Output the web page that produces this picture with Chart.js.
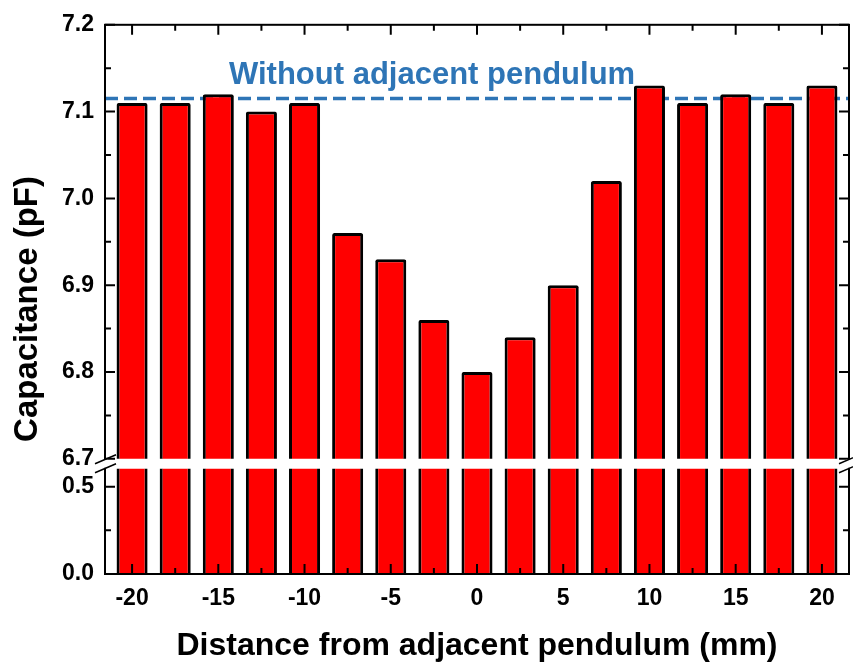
<!DOCTYPE html>
<html>
<head>
<meta charset="utf-8">
<script src="https://cdn.jsdelivr.net/npm/chart.js@4.4.0/dist/chart.umd.min.js"></script>
<style>
  html, body { margin: 0; padding: 0; background: #fff; }
</style>
</head>
<body>
<canvas id="chart" width="853" height="666"></canvas>
<script>
// distance from the adjacent pendulum (mm)
const distances = [-20, -17.5, -15, -12.5, -10, -7.5, -5, -2.5, 0, 2.5, 5, 7.5, 10, 12.5, 15, 17.5, 20];
// capacitance (pF)
const capacitance = [7.11, 7.11, 7.12, 7.10, 7.11, 6.96, 6.93, 6.86, 6.80, 6.84, 6.90, 7.02, 7.13, 7.11, 7.12, 7.11, 7.13];
// level without adjacent pendulum
const referenceLabel = 'Without adjacent pendulum';
const referenceValue = 7.115;

const xTickLabels = [-20, -15, -10, -5, 0, 5, 10, 15, 20];
const yUpperTicks = [6.7, 6.8, 6.9, 7.0, 7.1, 7.2];
const yLowerTicks = [0.0, 0.5];
const xRange = [-21.57, 21.57];
const yUpperRange = [6.7, 7.2];
const yLowerRange = [0, 0.66];

const FONT = "'Liberation Sans', Arial, sans-serif";
const BLUE = '#2E75B6';
const GAP = 10;

Chart.defaults.font.family = FONT;
Chart.defaults.color = '#000';

const points = distances.map((d, i) => ({ x: d, y: capacitance[i] }));

function line(ctx, x1, y1, x2, y2) {
    ctx.moveTo(x1, y1);
    ctx.lineTo(x2, y2);
}

// broken axis, inner ticks, frame and free texts
const decor = {
    id: 'decor',
    beforeDatasetDraw(chart, args) {
        if (args.meta.yAxisID !== 'y2') return;
        const s = chart.scales.y2, a = chart.chartArea, ctx = chart.ctx;
        ctx.save();
        ctx.beginPath();
        ctx.rect(a.left, s.top + GAP, a.right - a.left, s.bottom - s.top - GAP);
        ctx.clip();
    },
    afterDatasetDraw(chart, args) {
        if (args.meta.yAxisID === 'y2') chart.ctx.restore();
    },
    afterDatasetsDraw(chart) {
        const ctx = chart.ctx;
        const { left, right, top, bottom } = chart.chartArea;
        const x = chart.scales.x, y = chart.scales.y, y2 = chart.scales.y2;

        ctx.save();
        ctx.strokeStyle = '#000';
        ctx.lineWidth = 2;
        ctx.beginPath();
        // x ticks
        distances.forEach(d => {
            const px = x.getPixelForValue(d);
            const len = xTickLabels.includes(d) ? 10 : 6;
            line(ctx, px, bottom, px, bottom - len);
            line(ctx, px, top, px, top + len);
        });
        // y ticks
        const yt = (scale, vals) => {
            vals.forEach((v, i) => {
                const py = scale.getPixelForValue(v);
                line(ctx, left, py, left + 10, py);
                line(ctx, right, py, right - 10, py);
                if (i < vals.length - 1) {
                    const pm = scale.getPixelForValue((v + vals[i + 1]) / 2);
                    line(ctx, left, pm, left + 6, pm);
                    line(ctx, right, pm, right - 6, pm);
                }
            });
        };
        yt(y, yUpperTicks);
        yt(y2, yLowerTicks);
        ctx.stroke();
        ctx.strokeRect(left, top, right - left, bottom - top);

        // break
        const gy = y2.top;
        ctx.fillStyle = '#fff';
        ctx.fillRect(left - 3, gy + 1, 6, GAP - 2);
        ctx.fillRect(right - 3, gy + 1, 6, GAP - 2);
        ctx.lineWidth = 1.5;
        ctx.beginPath();
        [left, right].forEach(px => {
            line(ctx, px - 10, gy + 5, px + 11, gy - 4);
            line(ctx, px - 10, gy + 14, px + 11, gy + 5);
        });
        ctx.stroke();

        // texts
        ctx.fillStyle = BLUE;
        ctx.font = 'bold 31px ' + FONT;
        ctx.textAlign = 'left';
        ctx.textBaseline = 'alphabetic';
        ctx.fillText(referenceLabel, 229, 84);

        ctx.fillStyle = '#000';
        ctx.font = 'bold 33px ' + FONT;
        ctx.translate(37, 309);
        ctx.rotate(-Math.PI / 2);
        ctx.textAlign = 'center';
        ctx.fillText('Capacitance (pF)', 0, 0);
        ctx.restore();
    }
};

const tickFont = { size: 23, weight: 'bold', family: FONT };

new Chart(document.getElementById('chart'), {
    type: 'bar',
    data: {
        datasets: [
            {
                data: points,
                yAxisID: 'y',
                grouped: false,
                backgroundColor: '#FF0000',
                borderColor: '#000',
                borderWidth: 3,
                borderRadius: 2,
                borderSkipped: 'bottom'
            },
            {
                data: points,
                yAxisID: 'y2',
                grouped: false,
                backgroundColor: '#FF0000',
                borderColor: '#000',
                borderWidth: 3,
                borderSkipped: 'bottom'
            },
            {
                type: 'line',
                data: [{ x: xRange[0], y: referenceValue }, { x: xRange[1], y: referenceValue }],
                yAxisID: 'y',
                borderColor: BLUE,
                borderWidth: 3.5,
                borderDash: [13, 6],
                pointRadius: 0,
                fill: false
            }
        ]
    },
    options: {
        responsive: false,
        animation: false,
        layout: { padding: { top: 21, right: 4, left: 0, bottom: 0 } },
        plugins: { legend: { display: false }, tooltip: { enabled: false } },
        scales: {
            x: {
                type: 'linear',
                offset: false,
                min: xRange[0],
                max: xRange[1],
                grid: { display: false, drawTicks: false, offset: false },
                border: { display: true, color: '#000', width: 2 },
                afterBuildTicks: s => { s.ticks = xTickLabels.map(v => ({ value: v })); },
                ticks: { font: tickFont, color: '#000', padding: 11, maxRotation: 0, autoSkip: false, callback: v => String(v) },
                title: {
                    display: true,
                    text: 'Distance from adjacent pendulum (mm)',
                    font: { size: 32, weight: 'bold', family: FONT },
                    color: '#000',
                    padding: { top: 0, bottom: 1 }
                },
                afterFit: s => { s.height = 92; }
            },
            y2: {
                type: 'linear',
                position: 'left',
                stack: 'cap',
                stackWeight: 116,
                min: yLowerRange[0],
                max: yLowerRange[1],
                grid: { display: false, drawTicks: false },
                border: { display: true, color: '#000', width: 2 },
                afterBuildTicks: s => { s.ticks = yLowerTicks.map(v => ({ value: v })); },
                ticks: { font: tickFont, color: '#000', padding: 11, callback: v => v.toFixed(1) },
                afterFit: s => { s.width = 105; }
            },
            y: {
                type: 'linear',
                position: 'left',
                stack: 'cap',
                stackWeight: 437,
                min: yUpperRange[0],
                max: yUpperRange[1],
                grid: { display: false, drawTicks: false },
                border: { display: true, color: '#000', width: 2 },
                afterBuildTicks: s => { s.ticks = yUpperTicks.map(v => ({ value: v })); },
                ticks: { font: tickFont, color: '#000', padding: 11, callback: v => v.toFixed(1) },
                afterFit: s => { s.width = 105; }
            }
        }
    },
    plugins: [decor]
});
</script>
</body>
</html>
